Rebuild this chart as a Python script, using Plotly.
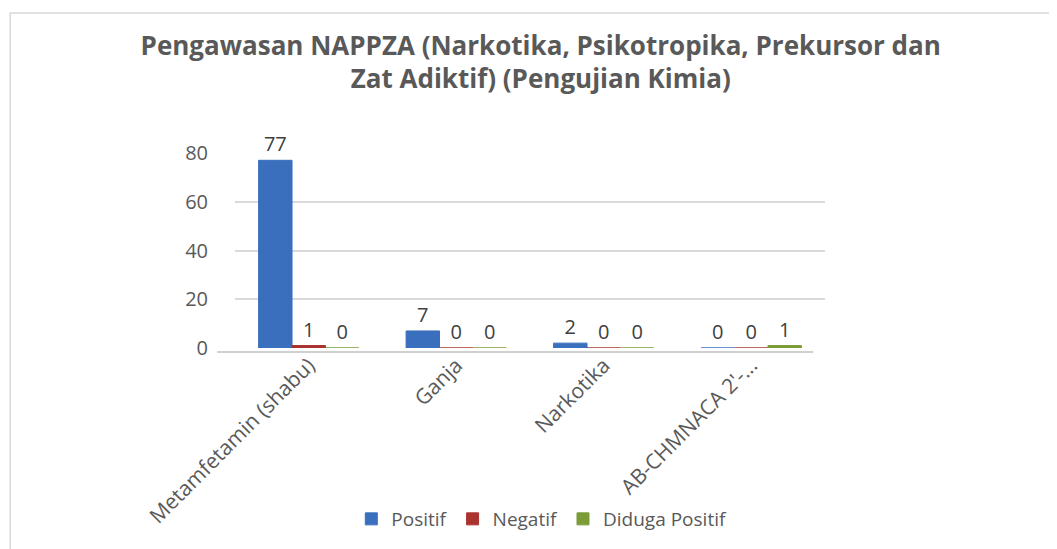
import plotly.graph_objects as go

categories = ["Metamfetamin (shabu)", "Ganja", "Narkotika", "AB-CHMNACA 2'-..."]
positif = [77, 7, 2, 0]
negatif = [1, 0, 0, 0]
diduga_positif = [0, 0, 0, 1]
y_ticks = [0, 20, 40, 60, 80]

series = [
    ("Positif", positif, "#3A6FBE"),
    ("Negatif", negatif, "#A9332F"),
    ("Diduga Positif", diduga_positif, "#7C9C38"),
]

FONT = "Open Sans"

fig = go.Figure()
for name, vals, col in series:
    fig.add_trace(go.Bar(
        x=categories, y=vals, name=name,
        marker=dict(color=col, line=dict(color=col, width=1)),
        text=[str(v) for v in vals], textposition="outside",
        textfont=dict(size=20, color="#404040", family=FONT),
        cliponaxis=False,
    ))

fig.update_layout(
    width=1057, height=549,
    paper_bgcolor="white", plot_bgcolor="white",
    margin=dict(l=227, r=240, t=145, b=209, autoexpand=False),
    barmode="group", bargap=0.32, bargroupgap=0.0,
    title=dict(
        text="Pengawasan NAPPZA (Narkotika, Psikotropika, Prekursor dan<br>Zat Adiktif) (Pengujian Kimia)",
        x=0.504, xanchor="center", y=0.915, yanchor="middle",
        font=dict(family=FONT, size=26, color="#595959", weight="bold"),
    ),
    font=dict(family=FONT, color="#595959"),
    showlegend=True,
    legend=dict(
        orientation="h", x=0.52, xanchor="center", y=-0.877, yanchor="middle",
        font=dict(size=19, color="#595959", family=FONT),
        tracegroupgap=0, itemwidth=30,
    ),
    yaxis=dict(
        range=[0, 80], tickvals=y_ticks, ticktext=[str(t) for t in y_ticks],
        showgrid=True, gridcolor="#D9D9D9", gridwidth=1.5,
        zeroline=False, showline=False,
        tickfont=dict(size=20, color="#595959", family=FONT),
        ticks="", ticklabelstandoff=26,
    ),
    xaxis=dict(
        tickangle=-45, tickfont=dict(size=21, color="#595959", family=FONT),
        showline=False, ticks="", automargin=False,
    ),
    shapes=[
        dict(type="rect", xref="paper", yref="paper", x0=-0.381, x1=1.5, y0=-1.2, y1=1.718,
             line=dict(color="#D9D9D9", width=1.5), fillcolor="rgba(0,0,0,0)", layer="below"),
        dict(type="line", xref="paper", yref="paper", x0=-0.03, x1=0.98, y0=-0.02, y1=-0.02,
             line=dict(color="#D0D0D0", width=2)),
    ],
)

fig.write_html("out.html")
